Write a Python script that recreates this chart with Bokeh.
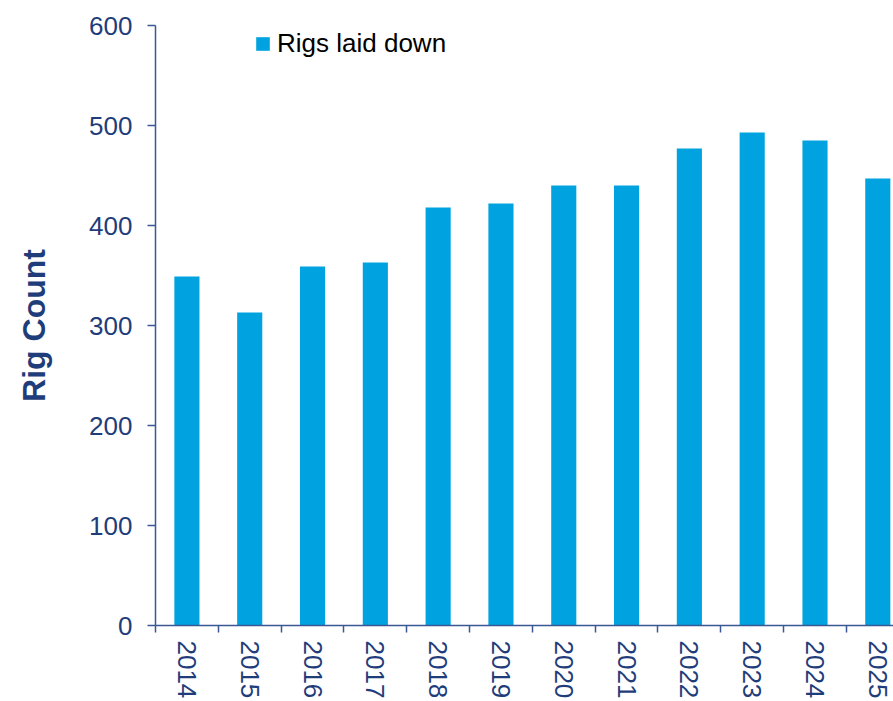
from bokeh.plotting import figure
from bokeh.models import Range1d, FixedTicker, Legend, ColumnDataSource
from bokeh.embed import file_html
from bokeh.resources import INLINE

years = ["2014", "2015", "2016", "2017", "2018", "2019", "2020", "2021", "2022", "2023", "2024", "2025"]
rigs_laid_down = [349, 313, 359, 363, 418, 422, 440, 440, 477, 493, 485, 447]
y_ticks = [0, 100, 200, 300, 400, 500, 600]
series_name = "Rigs laid down"
y_title = "Rig Count"

NAVY = "#1F3D7A"
AXIS = "#3A5894"
BAR = "#00A3E0"
FONT = "Liberation Sans"

idx = list(range(len(years)))
src = ColumnDataSource(dict(x=idx, top=rigs_laid_down))

p = figure(width=893, height=701, output_backend="svg", toolbar_location=None,
           x_range=Range1d(-0.5, len(years) - 0.75), y_range=Range1d(0, 600),
           min_border_left=155, min_border_right=0, min_border_top=25, min_border_bottom=0)
p.outline_line_color = None
p.xgrid.visible = False
p.ygrid.visible = False
p.background_fill_color = "white"
p.border_fill_color = "white"

r = p.vbar(x="x", top="top", width=0.4, bottom=0, source=src, fill_color=BAR, line_color=None)

# y axis
ya = p.yaxis[0]
ya.ticker = FixedTicker(ticks=y_ticks)
ya.axis_line_color = AXIS
ya.axis_line_width = 1.5
ya.major_tick_line_color = AXIS
ya.major_tick_line_width = 1.5
ya.major_tick_out = 8
ya.major_tick_in = 0
ya.minor_tick_line_color = None
ya.major_label_text_font = FONT
ya.major_label_text_font_size = "26px"
ya.major_label_text_color = NAVY
ya.major_label_standoff = 15
ya.axis_label = y_title
ya.axis_label_text_font = FONT
ya.axis_label_text_font_size = "32px"
ya.axis_label_text_font_style = "bold"
ya.axis_label_text_color = NAVY
ya.axis_label_standoff = 34

# x axis: labels at centres, tick marks at category boundaries
xa = p.xaxis[0]
xa.ticker = FixedTicker(ticks=idx, minor_ticks=[i - 0.5 for i in range(len(years) + 1)])
xa.major_label_overrides = {i: y for i, y in enumerate(years)}
xa.major_label_orientation = "vertical"
xa.axis_line_color = AXIS
xa.axis_line_width = 1.5
xa.major_tick_line_color = None
xa.major_tick_out = 0
xa.major_tick_in = 0
xa.minor_tick_line_color = AXIS
xa.minor_tick_line_width = 1.5
xa.minor_tick_out = 7
xa.minor_tick_in = 0
xa.major_label_text_font = FONT
xa.major_label_text_font_size = "26px"
xa.major_label_text_color = NAVY
xa.major_label_standoff = 8

legend = Legend(items=[(series_name, [r])], location=(99, 566),
                label_text_font=FONT, label_text_font_size="26px", label_text_color="#000000",
                glyph_width=17, glyph_height=17, label_standoff=6, label_height=30,
                border_line_color=None, background_fill_alpha=0, padding=4, margin=0)
p.add_layout(legend, "center")

open("out.html", "w").write(file_html(p, INLINE))
